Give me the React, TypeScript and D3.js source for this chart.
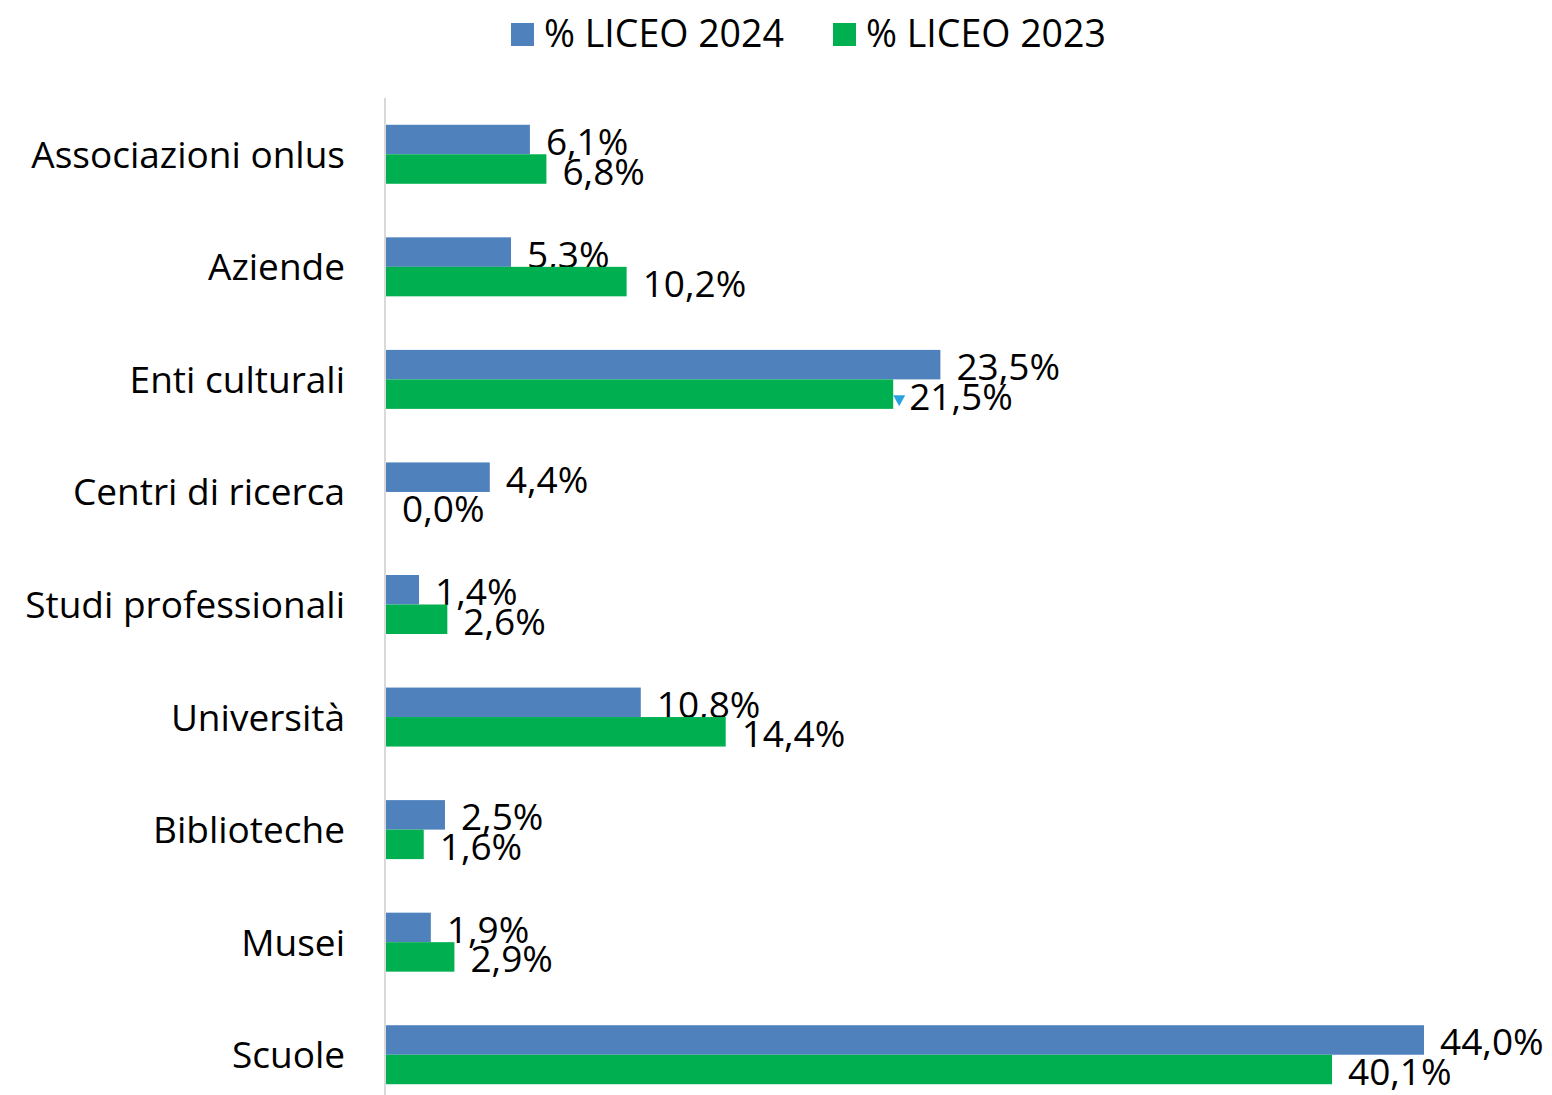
import React from "react";
import * as d3 from "d3";

const categories = [
  "Associazioni onlus",
  "Aziende",
  "Enti culturali",
  "Centri di ricerca",
  "Studi professionali",
  "Università",
  "Biblioteche",
  "Musei",
  "Scuole",
];
const seriesNames = ["% LICEO 2024", "% LICEO 2023"];
const values2024 = [6.1, 5.3, 23.5, 4.4, 1.4, 10.8, 2.5, 1.9, 44.0];
const values2023 = [6.8, 10.2, 21.5, 0.0, 2.6, 14.4, 1.6, 2.9, 40.1];
const colors = ["#4f81bd", "#00b050"];

const FONT = "'Open Sans', sans-serif";
const fmt = (v: number) => v.toFixed(1).replace(".", ",") + "%";

export default function App() {
  const W = 1552;
  const H = 1095;
  const x = d3.scaleLinear().domain([0, 44]).range([386, 1424]);
  const y = d3.scaleBand<string>().domain(categories).range([98, 1111]).padding(0);
  const sub = d3
    .scaleBand<string>()
    .domain(seriesNames)
    .range([0, y.step()])
    .paddingInner(0)
    .paddingOuter(0.908);
  const data = [values2024, values2023];

  // small marker seen next to "Enti culturali" 2023 bar
  const entiIdx = categories.indexOf("Enti culturali");
  const mX = x(values2023[entiIdx]) + 6;
  const mY = (y(categories[entiIdx]) as number) + (sub(seriesNames[1]) as number) + sub.bandwidth() * 0.5 + 7;

  return (
    <svg
      width={W}
      height={H}
      style={{ position: "absolute", left: 0, top: 0, background: "#fff" }}
      fontFamily={FONT}
    >
      {/* legend */}
      <g>
        <rect x={511} y={23} width={23} height={23} fill={colors[0]} />
        <text x={544} y={47} fontSize={37.5} fill="#000">{seriesNames[0]}</text>
        <rect x={833} y={23} width={23} height={23} fill={colors[1]} />
        <text x={866} y={47} fontSize={37.5} fill="#000">{seriesNames[1]}</text>
      </g>
      {/* axis line */}
      <line x1={385} x2={385} y1={98} y2={H} stroke="#d9d9d9" strokeWidth={2} />
      {categories.map((c, i) => (
        <g key={c}>
          <text
            x={345}
            y={(y(c) as number) + y.step() / 2 - 1}
            textAnchor="end"
            dominantBaseline="central"
            fontSize={37}
            fill="#000"
          >
            {c}
          </text>
          {seriesNames.map((s, j) => {
            const v = data[j][i];
            const by = (y(c) as number) + (sub(s) as number);
            return (
              <g key={s}>
                <rect x={x(0)} y={by} width={x(v) - x(0)} height={sub.bandwidth()} fill={colors[j]} />
                <text
                  x={x(v) + 16}
                  y={by + sub.bandwidth() / 2 + 1}
                  dominantBaseline="central"
                  fontSize={37}
                  fill="#000"
                >
                  {fmt(v)}
                </text>
              </g>
            );
          })}
        </g>
      ))}
      <path d={`M${mX - 6},${mY - 6} L${mX + 6},${mY - 6} L${mX},${mY + 5} Z`} fill="#29a3e0" />
    </svg>
  );
}
